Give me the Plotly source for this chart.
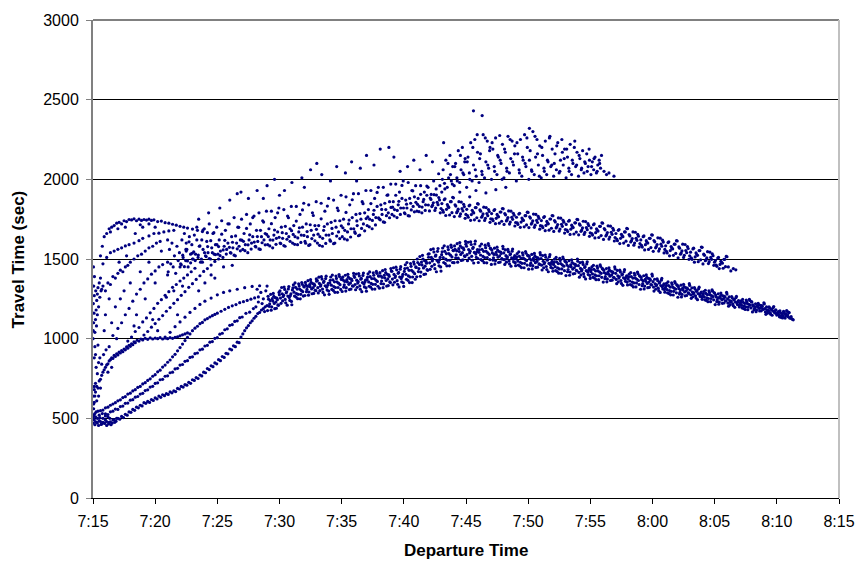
import plotly.graph_objects as go

# Departure time is stored as minutes after 7:00, travel time in seconds.
TICK_MINUTES = [15, 20, 25, 30, 35, 40, 45, 50, 55, 60, 65, 70, 75]
TICK_LABELS = ['7:15', '7:20', '7:25', '7:30', '7:35', '7:40', '7:45',
               '7:50', '7:55', '8:00', '8:05', '8:10', '8:15']
Y_TICKS = [0, 500, 1000, 1500, 2000, 2500, 3000]

# Vehicles leaving in the first minutes
start_cluster = [
    (15.0,470),(15.05,520),(15.1,490),(15.15,460),(15.2,510),(15.25,540),(15.3,475),(15.35,500),
    (15.45,455),(15.5,520),(15.6,480),(15.7,465),(15.8,500),(15.9,470),(16.0,490),(16.1,455),
    (16.2,510),(16.3,475),(16.45,460),(16.6,490),(16.75,475),(16.9,500),(15.15,530),(15.4,545),
    (15.55,505),(15.75,530),(16.0,515),(16.35,500),(15.05,590),(15.0,640),(15.1,680)]

axis_column = [
    (15.0,1000),(15.02,1050),(15.05,1100),(15.08,1160),(15.03,1220),(15.1,1270),(15.06,1330),
    (15.12,1390),(15.04,1450),(15.15,1040),(15.2,1120),(15.25,1180),(15.3,1240),(15.22,1300),
    (15.35,1280),(15.4,1320),(15.45,1200),(15.5,1350),(15.55,1260),(15.6,1380),(15.65,1300),
    (15.7,1310),(15.35,1150),(15.15,950),(15.1,880),(15.28,1080)]

strand_lowest = [
    (15.05,495),(15.2,478),(15.35,470),(15.5,485),(15.65,462),(15.8,475),(15.95,468),(16.1,480),
    (16.25,465),(16.4,478),(16.55,470),(16.7,490),(16.85,482),(17.0,500),(17.15,495),(17.3,512),
    (17.45,505),(17.6,525),(17.75,520),(17.9,540),(18.05,538),(18.2,556),(18.35,550),(18.5,570),
    (18.65,566),(18.8,582),(18.95,578),(19.1,598),(19.25,594),(19.4,606),(19.55,600),(19.7,618),
    (19.85,612),(20.0,628),(20.15,622),(20.3,640),(20.45,632),(20.6,648),(20.75,642),(20.9,655),
    (21.05,650),(21.2,666),(21.35,660),(21.5,672),(21.65,668),(21.8,688),(21.95,684),(22.1,700),
    (22.25,696),(22.4,712),(22.55,708),(22.7,726),(22.85,720),(23.0,742),(23.15,738),(23.3,756),
    (23.45,750),(23.6,772),(23.75,766),(23.9,790),(24.05,786),(24.2,812),(24.35,806),(24.5,830),
    (24.65,824),(24.8,848),(24.95,842),(25.1,868),(25.25,862),(25.4,888),(25.55,882),(25.7,908),
    (25.85,905),(26.0,935),(26.15,930),(26.3,955),(26.45,950),(26.6,978),(26.75,975),(26.9,1010),
    (27.05,1030),(27.2,1050),(27.35,1068),(27.5,1082),(27.65,1100),(27.8,1112),(27.95,1128),
    (28.1,1140),(28.25,1158),(28.4,1165),(28.55,1180),(28.7,1188),(28.85,1200),(29.0,1208)]

strand_middle = [
    (16.0,528),(16.2,524),(16.4,541),(16.6,545),(16.8,558),(17.0,556),(17.2,574),(17.4,577),
    (17.6,594),(17.8,596),(18.0,614),(18.2,617),(18.4,633),(18.6,637),(18.8,652),(19.0,657),
    (19.2,674),(19.4,679),(19.6,696),(19.8,701),(20.0,719),(20.2,723),(20.4,742),(20.6,745),
    (20.8,764),(21.0,767),(21.2,786),(21.4,790),(21.6,810),(21.8,814),(22.0,834),(22.2,838),
    (22.4,858),(22.6,862),(22.8,882),(23.0,886),(23.2,906),(23.4,910),(23.6,930),(23.8,934),
    (24.0,954),(24.2,958),(24.4,978),(24.6,982),(24.8,1002),(25.0,1006),(25.2,1028),(25.4,1034),
    (25.6,1056),(25.8,1062),(26.0,1084),(26.2,1088),(26.4,1108),(26.6,1112),(26.8,1132),
    (27.0,1136),(27.3,1159),(27.6,1166),(27.9,1189)]

strand_upper = [
    (15.6,548),(15.8,552),(16.0,566),(16.2,570),(16.4,582),(16.6,590),(16.8,598),(17.0,610),
    (17.2,616),(17.4,630),(17.6,636),(17.8,652),(18.0,658),(18.2,672),(18.4,680),(18.6,694),
    (18.8,700),(19.0,716),(19.2,724),(19.4,738),(19.6,748),(19.8,764),(20.0,774),(20.2,792),
    (20.4,802),(20.6,822),(20.8,834),(21.0,852),(21.2,866),(21.4,886),(21.6,902),(21.8,924),
    (22.0,944),(22.2,966),(22.4,988),(22.6,1008),(22.8,1030),(23.0,1050),(23.2,1066),(23.4,1078),
    (23.6,1094),(23.8,1102),(24.0,1118),(24.2,1126),(24.4,1136),(24.6,1144),(24.8,1152),
    (25.0,1160),(25.3,1172),(25.6,1184),(25.9,1196),(26.2,1206),(26.5,1214),(26.8,1226),
    (27.1,1232),(27.4,1240),(27.7,1248),(28.0,1256),(28.3,1262),
    (28.1,1200),(28.3,1230),(28.5,1290),(28.7,1250),(28.9,1300),(28.2,1310),(28.6,1220),(28.8,1170)]

line_1000 = [
    (15.0,510),(15.05,560),(15.1,600),(15.15,640),(15.2,665),(15.3,700),(15.4,690),(15.5,735),
    (15.6,745),(15.7,770),(15.8,790),(15.9,805),(16.0,820),(16.1,835),(16.2,842),(16.3,860),
    (16.4,868),(16.5,880),(16.6,876),(16.7,895),(16.8,888),(16.9,905),(17.0,898),(17.1,915),
    (17.2,910),(17.3,925),(17.4,918),(17.5,935),(17.6,930),(17.7,948),(17.8,940),(17.9,958),
    (18.0,952),(18.1,968),(18.2,962),(18.3,980),(18.4,975),(18.55,990),(18.7,985),(18.85,998),
    (19.0,992),(19.2,1002),(19.4,996),(19.6,1005),(19.8,998),(20.0,1004),(20.2,1000),(20.4,1006),
    (20.6,998),(20.8,1004),(21.0,1000),(21.2,1006),(21.4,1002),(21.6,1008),(21.8,1012),
    (22.0,1018),(22.2,1024),(22.4,1030),(22.6,1036),
    (15.2,720),(15.35,780),(15.45,850),(15.25,820),(15.55,880),(15.7,840),(15.85,900),(16.05,930),
    (16.3,950),(15.1,700),(15.3,610),(15.45,640),(15.6,690),(15.2,900),(15.4,960),(16.2,790),
    (16.5,820)]

steep_fan = [
    (15.8,1330),(16.0,1300),(16.2,1350),(16.4,1340),(16.6,1390),(16.8,1380),(17.0,1410),
    (17.2,1430),(17.4,1420),(17.6,1450),(17.8,1460),(18.0,1480),(18.3,1500),(18.6,1520),
    (18.9,1530),(19.2,1550),(19.5,1570),(19.8,1580),(20.1,1600),(20.4,1610)]

top_arc = [
    (15.6,1520),(15.75,1580),(15.9,1640),(16.1,1660),(16.3,1690),(16.5,1700),(16.7,1710),
    (16.9,1725),(17.1,1730),(17.3,1720),(17.5,1740),(17.7,1735),(17.9,1748),(18.1,1745),
    (18.3,1752),(18.5,1740),(18.7,1750),(18.9,1742),(19.1,1748),(19.3,1744),(19.5,1750),
    (19.7,1742),(19.9,1746),(20.2,1735),(20.5,1738),(20.8,1728),(21.1,1725),(21.4,1718),
    (21.7,1712),(22.0,1705),(22.3,1700),(22.6,1694),(23.0,1688),(23.4,1680),(23.8,1672),
    (24.2,1665),(16.4,1670),(17.0,1690),(17.6,1700),(18.8,1715),(19.5,1720)]

second_arc = [
    (15.8,1470),(16.1,1510),(16.4,1540),(16.7,1550),(17.0,1561),(17.3,1570),(17.6,1582),
    (17.9,1590),(18.3,1600),(18.7,1615),(19.0,1630),(19.5,1645),(19.9,1660),(20.3,1662),
    (20.7,1670),(21.1,1676),(21.5,1680)]

fan_b = [
    (16.6,1020),(17.0,1064),(17.3,1100),(17.6,1150),(17.9,1190),(18.2,1235),(18.5,1280),
    (18.8,1310),(19.1,1350),(19.4,1375),(19.7,1405),(20.0,1425),(20.3,1450),(20.6,1465),(21.0,1480)]

fan_c = [
    (17.8,985),(18.1,1010),(18.4,1045),(18.7,1070),(19.0,1105),(19.3,1130),(19.6,1162),
    (19.9,1190),(20.2,1222),(20.5,1245),(20.8,1272),(21.1,1295),(21.4,1322),(21.7,1340),
    (22.0,1362),(22.3,1380),(22.6,1400),(22.9,1420),(23.2,1442)]

fan_d = [
    (19.1,1023),(19.4,1045),(19.7,1072),(20.0,1095),(20.3,1122),(20.6,1145),(20.9,1172),
    (21.2,1195),(21.5,1222),(21.8,1245),(22.1,1272),(22.4,1295),(22.7,1322),(23.0,1345),
    (23.3,1372),(23.6,1395),(23.9,1422),(24.2,1440),(24.5,1462),(24.8,1485),(25.1,1500)]

fan_e = [
    (20.8,1010),(21.2,1040),(21.6,1075),(22.0,1105),(22.4,1135),(22.8,1165),(23.2,1190),
    (23.6,1215),(24.0,1235),(24.5,1255),(25.0,1275),(25.5,1290),(26.0,1300),(26.6,1310),
    (27.2,1320),(27.8,1328),(28.4,1332),(29.0,1330)]

early_scatter = [
    (16.5,1100),(17.2,1250),(18.0,1350),(18.5,1150),(19.2,1250),(20.0,1350),(20.5,1550),
    (21.0,1400),(21.5,1300),(22.0,1450),(22.5,1550),(23.0,1500),(19.5,1480),(18.8,1420),
    (17.5,1300),(16.8,1200),(20.2,1050),(21.8,1150),(23.5,1300),(24.0,1350),(24.5,1400),
    (25.5,1450),(26.2,1460),(16.0,1150),(16.3,1250),(17.7,1520),(19.0,1700),(20.0,1700),
    (21.0,1620),(22.5,1600),(15.9,1050),(16.9,1000),(18.3,1080),(19.8,1120),(20.9,1260),
    (22.2,1330),(23.8,1480),(24.8,1380),(17.1,1480),(18.4,1660)]

# Main lower band, 7:29 to 8:11
lower_band = [
    (29.04,1176),(29.12,1248),(29.21,1218),(29.29,1278),(29.37,1200),(29.46,1236),(29.54,1266),(29.62,1188),(29.71,1230),(29.79,1254),(29.87,1212),(29.96,1290),
    (30.04,1300),(30.12,1222),(30.21,1282),(30.29,1264),(30.37,1324),(30.46,1246),(30.54,1288),(30.62,1210),(30.71,1312),(30.79,1258),(30.87,1270),(30.96,1234),
    (31.04,1306),(31.12,1338),(31.21,1267),(31.29,1322),(31.37,1283),(31.46,1251),(31.54,1344),(31.62,1311),(31.71,1278),(31.79,1352),(31.87,1295),(31.96,1328),
    (32.04,1271),(32.12,1337),(32.21,1309),(32.29,1364),(32.37,1293),(32.46,1326),(32.54,1353),(32.62,1282),(32.71,1320),(32.79,1342),(32.87,1304),(32.96,1375),
    (33.04,1365),(33.12,1287),(33.21,1347),(33.29,1329),(33.37,1389),(33.46,1311),(33.54,1353),(33.62,1275),(33.71,1377),(33.79,1323),(33.87,1335),(33.96,1299),
    (34.04,1351),(34.12,1387),(34.21,1309),(34.29,1369),(34.37,1327),(34.46,1291),(34.54,1393),(34.62,1357),(34.71,1321),(34.79,1402),(34.87,1339),(34.96,1375),
    (35.04,1296),(35.12,1368),(35.21,1338),(35.29,1398),(35.37,1320),(35.46,1356),(35.54,1386),(35.62,1308),(35.71,1350),(35.79,1374),(35.87,1332),(35.96,1410),
    (36.04,1385),(36.12,1307),(36.21,1367),(36.29,1349),(36.37,1409),(36.46,1331),(36.54,1373),(36.62,1295),(36.71,1397),(36.79,1343),(36.87,1355),(36.96,1319),
    (37.04,1371),(37.12,1407),(37.21,1329),(37.29,1389),(37.37,1347),(37.46,1311),(37.54,1413),(37.62,1377),(37.71,1341),(37.79,1422),(37.87,1359),(37.96,1395),
    (38.04,1317),(38.12,1395),(38.21,1362),(38.29,1427),(38.37,1343),(38.46,1382),(38.54,1414),(38.62,1330),(38.71,1375),(38.79,1401),(38.87,1356),(38.96,1440),
    (39.04,1423),(39.12,1338),(39.21,1403),(39.29,1384),(39.37,1449),(39.46,1364),(39.54,1410),(39.62,1325),(39.71,1436),(39.79,1377),(39.87,1390),(39.96,1351),
    (40.04,1422),(40.12,1464),(40.21,1373),(40.29,1443),(40.37,1394),(40.46,1352),(40.54,1471),(40.62,1429),(40.71,1387),(40.79,1482),(40.87,1408),(40.96,1450),
    (41.04,1388),(41.12,1478),(41.21,1440),(41.29,1515),(41.37,1418),(41.46,1463),(41.54,1500),(41.62,1403),(41.71,1455),(41.79,1485),(41.87,1433),(41.96,1530),
    (42.04,1533),(42.12,1435),(42.21,1510),(42.29,1488),(42.37,1563),(42.46,1465),(42.54,1518),(42.62,1420),(42.71,1548),(42.79,1480),(42.87,1495),(42.96,1450),
    (43.04,1527),(43.12,1569),(43.21,1478),(43.29,1548),(43.37,1499),(43.46,1457),(43.54,1576),(43.62,1534),(43.71,1492),(43.79,1587),(43.87,1513),(43.96,1555),
    (44.04,1477),(44.12,1561),(44.21,1526),(44.29,1596),(44.37,1505),(44.46,1547),(44.54,1582),(44.62,1491),(44.71,1540),(44.79,1568),(44.87,1519),(44.96,1610),
    (45.04,1580),(45.12,1489),(45.21,1559),(45.29,1538),(45.37,1608),(45.46,1517),(45.54,1566),(45.62,1475),(45.71,1594),(45.79,1531),(45.87,1545),(45.96,1503),
    (46.04,1542),(46.12,1581),(46.21,1496),(46.29,1561),(46.37,1516),(46.46,1477),(46.54,1587),(46.62,1548),(46.71,1509),(46.79,1597),(46.87,1529),(46.96,1568),
    (47.04,1466),(47.12,1538),(47.21,1508),(47.29,1568),(47.37,1490),(47.46,1526),(47.54,1556),(47.62,1478),(47.71,1520),(47.79,1544),(47.87,1502),(47.96,1580),
    (48.04,1538),(48.12,1466),(48.21,1521),(48.29,1505),(48.37,1560),(48.46,1488),(48.54,1527),(48.62,1455),(48.71,1549),(48.79,1499),(48.87,1510),(48.96,1477),
    (49.04,1501),(49.12,1534),(49.21,1462),(49.29,1517),(49.37,1479),(49.46,1446),(49.54,1539),(49.62,1506),(49.71,1473),(49.79,1547),(49.87,1490),(49.96,1523),
    (50.04,1436),(50.12,1502),(50.21,1474),(50.29,1529),(50.37,1458),(50.46,1491),(50.54,1518),(50.62,1447),(50.71,1485),(50.79,1507),(50.87,1469),(50.96,1540),
    (51.04,1503),(51.12,1431),(51.21,1486),(51.29,1470),(51.37,1525),(51.46,1453),(51.54,1492),(51.62,1420),(51.71,1514),(51.79,1464),(51.87,1475),(51.96,1442),
    (52.04,1466),(52.12,1499),(52.21,1427),(52.29,1482),(52.37,1444),(52.46,1411),(52.54,1504),(52.62,1471),(52.71,1438),(52.79,1512),(52.87,1455),(52.96,1488),
    (53.04,1396),(53.12,1462),(53.21,1434),(53.29,1489),(53.37,1418),(53.46,1451),(53.54,1478),(53.62,1407),(53.71,1445),(53.79,1467),(53.87,1429),(53.96,1500),
    (54.04,1458),(54.12,1386),(54.21,1441),(54.29,1425),(54.37,1480),(54.46,1408),(54.54,1447),(54.62,1375),(54.71,1469),(54.79,1419),(54.87,1430),(54.96,1397),
    (55.04,1420),(55.12,1450),(55.21,1385),(55.29,1435),(55.37,1400),(55.46,1370),(55.54,1455),(55.62,1425),(55.71,1395),(55.79,1463),(55.87,1410),(55.96,1440),
    (56.04,1355),(56.12,1415),(56.21,1390),(56.29,1440),(56.37,1375),(56.46,1405),(56.54,1430),(56.62,1365),(56.71,1400),(56.79,1420),(56.87,1385),(56.96,1450),
    (57.04,1410),(57.12,1345),(57.21,1395),(57.29,1380),(57.37,1430),(57.46,1365),(57.54,1400),(57.62,1335),(57.71,1420),(57.79,1375),(57.87,1385),(57.96,1355),
    (58.04,1375),(58.12,1405),(58.21,1340),(58.29,1390),(58.37,1355),(58.46,1325),(58.54,1410),(58.62,1380),(58.71,1350),(58.79,1418),(58.87,1365),(58.96,1395),
    (59.04,1310),(59.12,1370),(59.21,1345),(59.29,1395),(59.37,1330),(59.46,1360),(59.54,1385),(59.62,1320),(59.71,1355),(59.79,1375),(59.87,1340),(59.96,1405),
    (60.04,1358),(60.12,1299),(60.21,1344),(60.29,1331),(60.37,1376),(60.46,1317),(60.54,1349),(60.62,1290),(60.71,1367),(60.79,1326),(60.87,1335),(60.96,1308),
    (61.04,1320),(61.12,1347),(61.21,1288),(61.29,1333),(61.37,1302),(61.46,1275),(61.54,1351),(61.62,1324),(61.71,1297),(61.79,1358),(61.87,1311),(61.96,1338),
    (62.04,1260),(62.12,1314),(62.21,1291),(62.29,1336),(62.37,1278),(62.46,1305),(62.54,1327),(62.62,1269),(62.71,1300),(62.79,1318),(62.87,1287),(62.96,1345),
    (63.04,1305),(63.12,1253),(63.21,1293),(63.29,1281),(63.37,1321),(63.46,1269),(63.54,1297),(63.62,1245),(63.71,1313),(63.79,1277),(63.87,1285),(63.96,1261),
    (64.04,1272),(64.12,1296),(64.21,1244),(64.29,1284),(64.37,1256),(64.46,1232),(64.54,1300),(64.62,1276),(64.71,1252),(64.79,1306),(64.87,1264),(64.96,1288),
    (65.04,1214),(65.12,1262),(65.21,1242),(65.29,1282),(65.37,1230),(65.46,1254),(65.54,1274),(65.62,1222),(65.71,1250),(65.79,1266),(65.87,1238),(65.96,1290),
    (66.04,1250),(66.12,1204),(66.21,1239),(66.29,1229),(66.37,1264),(66.46,1218),(66.54,1243),(66.62,1197),(66.71,1257),(66.79,1225),(66.87,1232),(66.96,1211),
    (67.04,1218),(67.12,1238),(67.21,1193),(67.29,1228),(67.37,1204),(67.46,1183),(67.54,1242),(67.62,1221),(67.71,1200),(67.79,1247),(67.87,1211),(67.96,1232),
    (68.04,1168),(68.12,1204),(68.21,1189),(68.29,1219),(68.37,1180),(68.46,1198),(68.54,1213),(68.62,1174),(68.71,1195),(68.79,1207),(68.87,1186),(68.96,1225),
    (69.04,1189),(69.12,1153),(69.21,1181),(69.29,1172),(69.37,1200),(69.46,1164),(69.54,1183),(69.62,1147),(69.71,1195),(69.79,1169),(69.87,1175),(69.96,1158),
    (70.04,1155),(70.12,1170),(70.21,1137),(70.29,1162),(70.37,1145),(70.46,1130),(70.54,1172),(70.62,1157),(70.71,1142),(70.79,1176),(70.87,1150),(70.96,1165),
    (71.05,1128),(71.15,1138),(71.25,1122),(71.32,1118)]

lower_band_2 = [
    (29.08,1266),(29.17,1203),(29.25,1239),(29.33,1179),(29.42,1251),(29.5,1284),(29.58,1221),(29.67,1257),(29.75,1191),(29.83,1245),(29.92,1209),(29.99,1275),
    (30.08,1255),(30.17,1321),(30.25,1237),(30.33,1273),(30.42,1309),(30.5,1225),(30.58,1294),(30.67,1267),(30.75,1327),(30.83,1240),(30.92,1282),(30.99,1213),
    (31.08,1319),(31.17,1292),(31.25,1350),(31.33,1261),(31.42,1311),(31.5,1278),(31.58,1330),(31.67,1250),(31.75,1303),(31.83,1341),(31.92,1267),(31.99,1325),
    (32.08,1353),(32.17,1295),(32.25,1328),(32.33,1273),(32.42,1339),(32.5,1370),(32.58,1312),(32.67,1345),(32.75,1284),(32.83,1334),(32.92,1301),(32.99,1361),
    (33.08,1320),(33.17,1386),(33.25,1302),(33.33,1338),(33.42,1374),(33.5,1290),(33.58,1359),(33.67,1332),(33.75,1392),(33.83,1305),(33.92,1347),(33.99,1278),
    (34.08,1366),(34.17,1336),(34.25,1399),(34.33,1303),(34.42,1357),(34.5,1321),(34.58,1378),(34.67,1291),(34.75,1348),(34.83,1390),(34.92,1309),(34.99,1372),
    (35.08,1386),(35.17,1323),(35.25,1359),(35.33,1299),(35.42,1371),(35.5,1404),(35.58,1341),(35.67,1377),(35.75,1311),(35.83,1365),(35.92,1329),(35.99,1395),
    (36.08,1340),(36.17,1406),(36.25,1322),(36.33,1358),(36.42,1394),(36.5,1310),(36.58,1379),(36.67,1352),(36.75,1412),(36.83,1325),(36.92,1367),(36.99,1298),
    (37.08,1386),(37.17,1356),(37.25,1419),(37.33,1323),(37.42,1377),(37.5,1341),(37.58,1398),(37.67,1311),(37.75,1368),(37.83,1410),(37.92,1329),(37.99,1392),
    (38.08,1414),(38.17,1346),(38.25,1385),(38.33,1320),(38.42,1398),(38.5,1434),(38.58,1365),(38.67,1404),(38.75,1333),(38.83,1391),(38.92,1352),(38.99,1424),
    (39.08,1374),(39.17,1445),(39.25,1354),(39.33,1393),(39.42,1432),(39.5,1341),(39.58,1416),(39.67,1387),(39.75,1452),(39.83,1357),(39.92,1403),(39.99,1328),
    (40.08,1440),(40.17,1404),(40.25,1478),(40.33,1366),(40.42,1429),(40.5,1387),(40.58,1454),(40.67,1352),(40.75,1419),(40.83,1468),(40.92,1373),(40.99,1447),
    (41.08,1500),(41.17,1421),(41.25,1466),(41.33,1391),(41.42,1481),(41.5,1523),(41.58,1444),(41.67,1489),(41.75,1406),(41.83,1474),(41.92,1429),(41.99,1511),
    (42.08,1476),(42.17,1559),(42.25,1454),(42.33,1499),(42.42,1544),(42.5,1439),(42.58,1525),(42.67,1491),(42.75,1566),(42.83,1457),(42.92,1510),(42.99,1424),
    (43.08,1545),(43.17,1509),(43.25,1583),(43.33,1471),(43.42,1534),(43.5,1492),(43.58,1559),(43.67,1457),(43.75,1524),(43.83,1573),(43.92,1478),(43.99,1552),
    (44.08,1582),(44.17,1508),(44.25,1551),(44.33,1480),(44.42,1565),(44.5,1603),(44.58,1529),(44.67,1572),(44.75,1494),(44.83,1558),(44.92,1515),(44.99,1593),
    (45.08,1527),(45.17,1605),(45.25,1506),(45.33,1549),(45.42,1591),(45.5,1492),(45.58,1573),(45.67,1541),(45.75,1612),(45.83,1510),(45.92,1559),(45.99,1478),
    (46.08,1558),(46.17,1525),(46.25,1594),(46.33,1489),(46.42,1548),(46.5,1509),(46.58,1571),(46.67,1476),(46.75,1538),(46.83,1584),(46.92,1496),(46.99,1564),
    (47.08,1556),(47.17,1493),(47.25,1529),(47.33,1469),(47.42,1541),(47.5,1574),(47.58,1511),(47.67,1547),(47.75,1481),(47.83,1535),(47.92,1499),(47.99,1565),
    (48.08,1496),(48.17,1557),(48.25,1480),(48.33,1513),(48.42,1546),(48.5,1469),(48.58,1532),(48.67,1507),(48.75,1562),(48.83,1482),(48.92,1521),(48.99,1458),
    (49.08,1514),(49.17,1487),(49.25,1545),(49.33,1456),(49.42,1506),(49.5,1473),(49.58,1525),(49.67,1445),(49.75,1498),(49.83,1536),(49.92,1462),(49.99,1520),
    (50.08,1518),(50.17,1460),(50.25,1493),(50.33,1438),(50.42,1504),(50.5,1535),(50.58,1477),(50.67,1510),(50.75,1449),(50.83,1499),(50.92,1466),(50.99,1526),
    (51.08,1461),(51.17,1522),(51.25,1445),(51.33,1478),(51.42,1511),(51.5,1434),(51.58,1497),(51.67,1472),(51.75,1527),(51.83,1447),(51.92,1486),(51.99,1423),
    (52.08,1479),(52.17,1452),(52.25,1510),(52.33,1421),(52.42,1471),(52.5,1438),(52.58,1490),(52.67,1410),(52.75,1463),(52.83,1501),(52.92,1427),(52.99,1485),
    (53.08,1478),(53.17,1420),(53.25,1453),(53.33,1398),(53.42,1464),(53.5,1495),(53.58,1437),(53.67,1470),(53.75,1409),(53.83,1459),(53.92,1426),(53.99,1486),
    (54.08,1416),(54.17,1477),(54.25,1400),(54.33,1433),(54.42,1466),(54.5,1389),(54.58,1452),(54.67,1427),(54.75,1482),(54.83,1402),(54.92,1441),(54.99,1378),
    (55.08,1433),(55.17,1407),(55.25,1460),(55.33,1380),(55.42,1425),(55.5,1395),(55.58,1443),(55.67,1370),(55.75,1418),(55.83,1453),(55.92,1385),(55.99,1438),
    (56.08,1430),(56.17,1377),(56.25,1408),(56.33,1357),(56.42,1418),(56.5,1445),(56.58,1392),(56.67,1423),(56.75,1367),(56.83,1413),(56.92,1382),(56.99,1438),
    (57.08,1372),(57.17,1428),(57.25,1357),(57.33,1388),(57.42,1418),(57.5,1347),(57.58,1405),(57.67,1382),(57.75,1433),(57.83,1360),(57.92,1395),(57.99,1337),
    (58.08,1388),(58.17,1362),(58.25,1415),(58.33,1335),(58.42,1380),(58.5,1350),(58.58,1398),(58.67,1325),(58.75,1373),(58.83,1408),(58.92,1340),(58.99,1393),
    (59.08,1385),(59.17,1332),(59.25,1363),(59.33,1312),(59.42,1373),(59.5,1400),(59.58,1347),(59.67,1378),(59.75,1322),(59.83,1368),(59.92,1337),(59.99,1393),
    (60.08,1324),(60.17,1373),(60.25,1310),(60.33,1337),(60.42,1364),(60.5,1301),(60.58,1353),(60.67,1333),(60.75,1378),(60.83,1312),(60.92,1344),(60.99,1292),
    (61.08,1331),(61.17,1308),(61.25,1356),(61.33,1283),(61.42,1324),(61.5,1297),(61.58,1340),(61.67,1274),(61.75,1317),(61.83,1349),(61.92,1288),(61.99,1335),
    (62.08,1327),(62.17,1280),(62.25,1307),(62.33,1262),(62.42,1316),(62.5,1341),(62.58,1293),(62.67,1320),(62.75,1271),(62.83,1311),(62.92,1284),(62.99,1334),
    (63.08,1275),(63.17,1319),(63.25,1263),(63.33,1287),(63.42,1311),(63.5,1255),(63.58,1301),(63.67,1283),(63.75,1323),(63.83,1265),(63.92,1293),(63.99,1247),
    (64.08,1282),(64.17,1262),(64.25,1304),(64.33,1240),(64.42,1276),(64.5,1252),(64.58,1290),(64.67,1232),(64.75,1270),(64.83,1298),(64.92,1244),(64.99,1286),
    (65.08,1274),(65.17,1232),(65.25,1256),(65.33,1216),(65.42,1264),(65.5,1286),(65.58,1244),(65.67,1268),(65.75,1224),(65.83,1260),(65.92,1236),(65.99,1280),
    (66.08,1223),(66.17,1262),(66.25,1213),(66.33,1234),(66.42,1255),(66.5,1206),(66.58,1246),(66.67,1230),(66.75,1265),(66.83,1214),(66.92,1239),(66.99,1199),
    (67.08,1226),(67.17,1209),(67.25,1246),(67.33,1189),(67.42,1221),(67.5,1200),(67.58,1233),(67.67,1182),(67.75,1216),(67.83,1240),(67.92,1193),(67.99,1230),
    (68.08,1213),(68.17,1181),(68.25,1200),(68.33,1169),(68.42,1206),(68.5,1222),(68.58,1190),(68.67,1209),(68.75,1175),(68.83,1203),(68.92,1184),(68.99,1218),
    (69.08,1168),(69.17,1199),(69.25,1160),(69.33,1176),(69.42,1193),(69.5,1154),(69.58,1186),(69.67,1174),(69.75,1202),(69.83,1161),(69.92,1181),(69.99,1148),
    (70.08,1161),(70.17,1148),(70.25,1175),(70.33,1134),(70.42,1157),(70.5,1142),(70.58,1166),(70.67,1129),(70.75,1153),(70.83,1171),(70.92,1137),(70.99,1163),
    (71.1,1132),(71.2,1125)]

# Middle band, 7:42 to 8:06
middle_band = [
    (42.06,1802),(42.18,1874),(42.31,1838),(42.43,1904),(42.56,1820),(42.68,1856),(42.81,1886),(42.93,1790),
    (43.06,1848),(43.18,1794),(43.31,1878),(43.43,1812),(43.56,1830),(43.68,1776),(43.81,1860),(43.93,1887),
    (44.06,1766),(44.18,1832),(44.31,1799),(44.43,1860),(44.56,1783),(44.68,1816),(44.81,1843),(44.93,1755),
    (45.06,1812),(45.18,1762),(45.31,1839),(45.43,1779),(45.56,1795),(45.68,1746),(45.81,1823),(45.93,1847),
    (46.06,1740),(46.18,1800),(46.31,1770),(46.43,1825),(46.56,1755),(46.68,1785),(46.81,1810),(46.93,1730),
    (47.06,1785),(47.18,1740),(47.31,1810),(47.43,1755),(47.56,1770),(47.68,1725),(47.81,1795),(47.93,1817),
    (48.06,1717),(48.18,1777),(48.31,1747),(48.43,1802),(48.56,1732),(48.68,1762),(48.81,1787),(48.93,1707),
    (49.06,1762),(49.18,1717),(49.31,1787),(49.43,1732),(49.56,1747),(49.68,1702),(49.81,1772),(49.93,1794),
    (50.06,1697),(50.18,1757),(50.31,1727),(50.43,1782),(50.56,1712),(50.68,1742),(50.81,1767),(50.93,1687),
    (51.06,1741),(51.18,1696),(51.31,1766),(51.43,1711),(51.56,1726),(51.68,1681),(51.81,1751),(51.93,1773),
    (52.06,1673),(52.18,1733),(52.31,1703),(52.43,1758),(52.56,1688),(52.68,1718),(52.81,1743),(52.93,1663),
    (53.06,1717),(53.18,1672),(53.31,1742),(53.43,1687),(53.56,1702),(53.68,1657),(53.81,1727),(53.93,1749),
    (54.06,1652),(54.18,1712),(54.31,1682),(54.43,1737),(54.56,1667),(54.68,1697),(54.81,1722),(54.93,1642),
    (55.06,1695),(55.18,1650),(55.31,1720),(55.43,1665),(55.56,1680),(55.68,1635),(55.81,1705),(55.93,1727),
    (56.06,1623),(56.18,1683),(56.31,1653),(56.43,1708),(56.56,1638),(56.68,1668),(56.81,1693),(56.93,1613),
    (57.06,1660),(57.18,1615),(57.31,1685),(57.43,1630),(57.56,1645),(57.68,1600),(57.81,1670),(57.93,1692),
    (58.06,1585),(58.18,1645),(58.31,1615),(58.43,1670),(58.56,1600),(58.68,1630),(58.81,1655),(58.93,1575),
    (59.06,1620),(59.18,1575),(59.31,1645),(59.43,1590),(59.56,1605),(59.68,1560),(59.81,1630),(59.93,1652),
    (60.06,1548),(60.18,1608),(60.31,1578),(60.43,1633),(60.56,1563),(60.68,1593),(60.81,1618),(60.93,1538),
    (61.06,1583),(61.18,1538),(61.31,1608),(61.43,1553),(61.56,1568),(61.68,1523),(61.81,1593),(61.93,1615),
    (62.06,1508),(62.18,1568),(62.31,1538),(62.43,1593),(62.56,1523),(62.68,1553),(62.81,1578),(62.93,1498),
    (63.06,1543),(63.18,1498),(63.31,1568),(63.43,1513),(63.56,1528),(63.68,1483),(63.81,1553),(63.93,1575),
    (64.06,1469),(64.18,1523),(64.31,1496),(64.43,1546),(64.56,1483),(64.68,1510),(64.81,1532),(64.93,1460),
    (65.06,1490),(65.18,1454),(65.31,1510),(65.43,1466),(65.56,1478),(65.68,1442),(65.81,1498),(65.93,1516),
    (66.1,1450),(66.3,1425),(66.5,1440),(66.7,1432)]

middle_band_2 = [
    (42.12,1883),(42.25,1829),(42.37,1853),(42.5,1805),(42.62,1901),(42.75,1841),(42.87,1871),(42.99,1817),
    (43.12,1806),(43.25,1872),(43.37,1773),(43.5,1842),(43.62,1824),(43.75,1860),(43.87,1791),(43.99,1884),
    (44.12,1840),(44.25,1791),(44.37,1813),(44.5,1769),(44.62,1857),(44.75,1802),(44.87,1829),(44.99,1780),
    (45.12,1773),(45.25,1834),(45.37,1743),(45.5,1806),(45.62,1789),(45.75,1823),(45.87,1759),(45.99,1845),
    (46.12,1808),(46.25,1762),(46.37,1783),(46.5,1742),(46.62,1823),(46.75,1772),(46.87,1798),(46.99,1752),
    (47.12,1750),(47.25,1805),(47.37,1722),(47.5,1780),(47.62,1765),(47.75,1795),(47.87,1737),(47.99,1815),
    (48.12,1785),(48.25,1739),(48.37,1760),(48.5,1719),(48.62,1800),(48.75,1749),(48.87,1775),(48.99,1729),
    (49.12,1727),(49.25,1782),(49.37,1699),(49.5,1757),(49.62,1742),(49.75,1772),(49.87,1714),(49.99,1792),
    (50.12,1765),(50.25,1719),(50.37,1740),(50.5,1699),(50.62,1780),(50.75,1729),(50.87,1755),(50.99,1709),
    (51.12,1706),(51.25,1761),(51.37,1678),(51.5,1736),(51.62,1721),(51.75,1751),(51.87,1693),(51.99,1771),
    (52.12,1741),(52.25,1695),(52.37,1716),(52.5,1675),(52.62,1756),(52.75,1705),(52.87,1731),(52.99,1685),
    (53.12,1682),(53.25,1737),(53.37,1654),(53.5,1712),(53.62,1697),(53.75,1727),(53.87,1669),(53.99,1747),
    (54.12,1720),(54.25,1674),(54.37,1695),(54.5,1654),(54.62,1735),(54.75,1684),(54.87,1710),(54.99,1664),
    (55.12,1660),(55.25,1715),(55.37,1632),(55.5,1690),(55.62,1675),(55.75,1705),(55.87,1647),(55.99,1725),
    (56.12,1691),(56.25,1645),(56.37,1666),(56.5,1625),(56.62,1706),(56.75,1655),(56.87,1681),(56.99,1635),
    (57.12,1625),(57.25,1680),(57.37,1597),(57.5,1655),(57.62,1640),(57.75,1670),(57.87,1612),(57.99,1690),
    (58.12,1653),(58.25,1607),(58.37,1628),(58.5,1587),(58.62,1668),(58.75,1617),(58.87,1643),(58.99,1597),
    (59.12,1585),(59.25,1640),(59.37,1557),(59.5,1615),(59.62,1600),(59.75,1630),(59.87,1572),(59.99,1650),
    (60.12,1616),(60.25,1570),(60.37,1591),(60.5,1550),(60.62,1631),(60.75,1580),(60.87,1606),(60.99,1560),
    (61.12,1548),(61.25,1603),(61.37,1520),(61.5,1578),(61.62,1563),(61.75,1593),(61.87,1535),(61.99,1613),
    (62.12,1576),(62.25,1530),(62.37,1551),(62.5,1510),(62.62,1591),(62.75,1540),(62.87,1566),(62.99,1520),
    (63.12,1508),(63.25,1563),(63.37,1480),(63.5,1538),(63.62,1523),(63.75,1553),(63.87,1495),(63.99,1573),
    (64.12,1530),(64.25,1489),(64.37,1507),(64.5,1471),(64.62,1543),(64.75,1498),(64.87,1521),(64.99,1480),
    (65.12,1462),(65.25,1506),(65.37,1440),(65.5,1486),(65.62,1474),(65.75,1498),(65.87,1452),(65.99,1514)]

# Upper cloud, 7:42 to 7:56
top_cloud = [
    (42.2,1905),(42.4,1990),(42.6,1940),(42.8,2035),(42.9,1960),
    (43.05,1920),(43.16,2060),(43.27,1975),(43.38,2120),(43.49,1950),(43.6,2010),(43.71,2150),(43.82,1990),(43.93,2080),
    (44.05,1960),(44.16,2100),(44.27,2010),(44.38,2180),(44.49,1980),(44.6,2060),(44.71,2200),(44.82,2030),(44.93,2130),
    (45.05,1950),(45.16,2140),(45.27,2040),(45.38,2230),(45.49,1990),(45.6,2090),(45.71,2250),(45.82,2020),(45.93,2170),
    (46.05,1980),(46.16,2160),(46.27,2050),(46.38,2280),(46.49,2010),(46.6,2110),(46.71,2240),(46.82,2070),(46.93,2200),
    (47.05,2000),(47.16,2190),(47.27,2080),(47.38,2260),(47.49,2030),(47.6,2140),(47.71,2275),(47.82,2100),(47.93,2220),
    (48.05,2010),(48.16,2170),(48.27,2070),(48.38,2270),(48.49,2040),(48.6,2130),(48.71,2240),(48.82,2090),(48.93,2210),
    (49.05,1990),(49.16,2160),(49.27,2060),(49.38,2250),(49.49,2020),(49.6,2120),(49.71,2280),(49.82,2080),(49.93,2200),
    (50.05,2000),(50.16,2180),(50.27,2060),(50.38,2300),(50.49,2030),(50.6,2140),(50.71,2250),(50.82,2090),(50.93,2210),
    (51.05,2010),(51.16,2150),(51.27,2070),(51.38,2240),(51.49,2030),(51.6,2110),(51.71,2260),(51.82,2080),(51.93,2190),
    (52.05,2020),(52.16,2160),(52.27,2060),(52.38,2230),(52.49,2040),(52.6,2120),(52.71,2250),(52.82,2090),(52.93,2190),
    (53.05,2010),(53.16,2140),(53.27,2070),(53.38,2220),(53.49,2030),(53.6,2100),(53.71,2200),(53.82,2080),(53.93,2170),
    (54.05,2020),(54.16,2130),(54.27,2060),(54.38,2180),(54.49,2040),(54.6,2100),(54.71,2160),(54.82,2080),(54.93,2120),
    (55.05,2030),(55.16,2110),(55.27,2060),(55.38,2140),(55.49,2040),(55.6,2090),(55.71,2120),(55.82,2070),
    (56.1,2050),(56.3,2030),(56.5,2040),(56.9,2020),
    (45.6,2430),(46.3,2400),(50.1,2320),
    (44.5,1920),(45.3,1890),(45.8,1930),(46.6,1915),(47.4,1935),(48.2,1950)]

top_cloud_2 = [
    (43.1,2000),(43.3,1940),(43.55,2100),(43.75,2030),(43.9,1970),
    (44.1,2080),(44.3,1990),(44.55,2150),(44.75,2040),(44.9,2110),
    (45.1,2110),(45.3,2000),(45.55,2200),(45.75,2060),(45.9,2280),
    (46.1,2130),(46.3,2030),(46.55,2260),(46.75,2090),(46.9,2180),
    (47.1,2230),(47.3,2050),(47.55,2150),(47.75,2120),(47.9,2000),
    (48.1,2190),(48.3,2050),(48.55,2250),(48.75,2110),(48.9,2160),
    (49.1,2230),(49.3,2040),(49.55,2140),(49.75,2100),(49.9,2260),
    (50.1,2120),(50.3,2050),(50.55,2270),(50.75,2160),(50.9,2020),
    (51.1,2200),(51.3,2050),(51.55,2120),(51.75,2270),(51.9,2090),
    (52.1,2100),(52.3,2210),(52.55,2050),(52.75,2170),(52.9,2130),
    (53.1,2190),(53.3,2050),(53.55,2120),(53.75,2240),(53.9,2090),
    (54.1,2150),(54.3,2070),(54.55,2110),(54.75,2050),(54.9,2190),
    (55.1,2080),(55.3,2130),(55.55,2050),(55.75,2100),(55.9,2150)]

# Broad cloud, 7:21 to 7:42
mid_cloud = [
    (21.05,1420),(21.15,1560),(21.25,1470),(21.35,1600),(21.45,1450),(21.55,1520),(21.65,1410),(21.75,1580),(21.85,1490),(21.95,1540),
    (22.05,1470),(22.15,1620),(22.25,1510),(22.35,1660),(22.45,1490),(22.55,1560),(22.65,1450),(22.75,1640),(22.85,1530),(22.95,1590),
    (23.05,1500),(23.15,1650),(23.25,1530),(23.35,1700),(23.45,1510),(23.55,1580),(23.65,1480),(23.75,1620),(23.85,1560),(23.95,1690),
    (24.05,1520),(24.15,1610),(24.25,1540),(24.35,1720),(24.45,1500),(24.55,1570),(24.65,1660),(24.75,1530),(24.85,1590),(24.95,1700),
    (25.05,1530),(25.15,1620),(25.25,1550),(25.35,1740),(25.45,1510),(25.55,1580),(25.65,1680),(25.75,1560),(25.85,1600),(25.95,1720),
    (26.05,1540),(26.15,1640),(26.25,1570),(26.35,1760),(26.45,1520),(26.55,1600),(26.65,1700),(26.75,1580),(26.85,1620),(26.95,1750),
    (27.05,1560),(27.15,1660),(27.25,1590),(27.35,1780),(27.45,1540),(27.55,1620),(27.65,1720),(27.75,1600),(27.85,1640),(27.95,1770),
    (28.05,1580),(28.15,1680),(28.25,1610),(28.35,1790),(28.45,1560),(28.55,1640),(28.65,1740),(28.75,1620),(28.85,1660),(28.95,1800),
    (29.05,1590),(29.15,1690),(29.25,1620),(29.35,1800),(29.45,1570),(29.55,1650),(29.65,1760),(29.75,1630),(29.85,1670),(29.95,1820),
    (30.05,1600),(30.15,1700),(30.25,1630),(30.35,1810),(30.45,1580),(30.55,1660),(30.65,1770),(30.75,1640),(30.85,1690),(30.95,1830),
    (31.05,1600),(31.15,1710),(31.25,1640),(31.35,1830),(31.45,1590),(31.55,1670),(31.65,1780),(31.75,1650),(31.85,1700),(31.95,1850),
    (32.05,1610),(32.15,1720),(32.25,1640),(32.35,1840),(32.45,1590),(32.55,1680),(32.65,1790),(32.75,1650),(32.85,1710),(32.95,1860),
    (33.05,1600),(33.15,1710),(33.25,1640),(33.35,1850),(33.45,1580),(33.55,1680),(33.65,1800),(33.75,1650),(33.85,1720),(33.95,1880),
    (34.05,1620),(34.15,1730),(34.25,1660),(34.35,1870),(34.45,1600),(34.55,1700),(34.65,1820),(34.75,1670),(34.85,1740),(34.95,1900),
    (35.05,1640),(35.15,1750),(35.25,1680),(35.35,1890),(35.45,1620),(35.55,1720),(35.65,1840),(35.75,1690),(35.85,1760),(35.95,1910),
    (36.05,1670),(36.15,1780),(36.25,1710),(36.35,1910),(36.45,1650),(36.55,1750),(36.65,1860),(36.75,1720),(36.85,1790),(36.95,1930),
    (37.05,1710),(37.15,1810),(37.25,1750),(37.35,1930),(37.45,1690),(37.55,1780),(37.65,1880),(37.75,1760),(37.85,1830),(37.95,1950),
    (38.05,1750),(38.15,1840),(38.25,1780),(38.35,1950),(38.45,1730),(38.55,1810),(38.65,1900),(38.75,1790),(38.85,1860),(38.95,1970),
    (39.05,1780),(39.15,1860),(39.25,1810),(39.35,1970),(39.45,1760),(39.55,1840),(39.65,1920),(39.75,1820),(39.85,1880),(39.95,1990),
    (40.05,1790),(40.15,1870),(40.25,1820),(40.35,1980),(40.45,1770),(40.55,1850),(40.65,1930),(40.75,1830),(40.85,1890),(40.95,1960),
    (41.05,1800),(41.15,1880),(41.25,1830),(41.35,1960),(41.45,1790),(41.55,1860),(41.65,1920),(41.75,1840),(41.85,1900),(41.95,1950)]

mid_cloud_2 = [
    (22.1,1464),(22.22,1524),(22.35,1452),(22.47,1560),(22.6,1488),(22.72,1608),(22.85,1476),(22.97,1536),
    (23.1,1545),(23.22,1490),(23.35,1620),(23.47,1525),(23.6,1582),(23.72,1500),(23.85,1682),(23.97,1540),
    (24.1,1515),(24.22,1578),(24.35,1503),(24.47,1615),(24.6,1540),(24.72,1665),(24.85,1528),(24.97,1590),
    (25.1,1578),(25.22,1521),(25.35,1656),(25.47,1557),(25.6,1617),(25.72,1531),(25.85,1721),(25.97,1573),
    (26.1,1537),(26.22,1605),(26.35,1524),(26.47,1645),(26.6,1564),(26.72,1699),(26.85,1551),(26.97,1618),
    (27.1,1611),(27.22,1552),(27.35,1692),(27.47,1589),(27.6,1652),(27.72,1562),(27.85,1760),(27.97,1606),
    (28.1,1576),(28.22,1641),(28.35,1563),(28.47,1680),(28.6,1602),(28.72,1732),(28.85,1589),(28.97,1654),
    (29.1,1641),(29.22,1582),(29.35,1722),(29.47,1619),(29.6,1682),(29.72,1592),(29.85,1790),(29.97,1636),
    (30.1,1597),(30.22,1665),(30.35,1584),(30.47,1705),(30.6,1624),(30.72,1759),(30.85,1611),(30.97,1678),
    (31.1,1654),(31.22,1592),(31.35,1738),(31.47,1632),(31.6,1696),(31.72,1604),(31.85,1808),(31.97,1648),
    (32.1,1599),(32.22,1672),(32.35,1585),(32.47,1715),(32.6,1628),(32.72,1773),(32.85,1614),(32.97,1686),
    (33.1,1656),(33.22,1586),(33.35,1752),(33.47,1630),(33.6,1704),(33.72,1598),(33.85,1832),(33.97,1650),
    (34.1,1612),(34.22,1692),(34.35,1596),(34.47,1740),(34.6,1644),(34.72,1804),(34.85,1628),(34.97,1708),
    (35.1,1696),(35.22,1626),(35.35,1792),(35.47,1670),(35.6,1744),(35.72,1638),(35.85,1872),(35.97,1690),
    (36.1,1661),(36.22,1739),(36.35,1646),(36.47,1785),(36.6,1692),(36.72,1847),(36.85,1677),(36.97,1754),
    (37.1,1764),(37.22,1702),(37.35,1848),(37.47,1742),(37.6,1806),(37.72,1714),(37.85,1918),(37.97,1758),
    (38.1,1746),(38.22,1811),(38.35,1733),(38.47,1850),(38.6,1772),(38.72,1902),(38.85,1759),(38.97,1824),
    (39.1,1825),(39.22,1770),(39.35,1900),(39.47,1805),(39.6,1862),(39.72,1780),(39.85,1962),(39.97,1820),
    (40.1,1784),(40.22,1844),(40.35,1772),(40.47,1880),(40.6,1808),(40.72,1928),(40.85,1796),(40.97,1856),
    (41.1,1843),(41.22,1797),(41.35,1906),(41.47,1826),(41.6,1874),(41.72,1805),(41.85,1958),(41.97,1839)]

# Sparse slow trips above the broad cloud
upper_scatter = [
    (23.5,1750),(24.3,1790),(25.2,1820),(26.0,1870),(26.6,1910),(26.9,1920),(27.5,1880),(28.2,1930),
    (29.0,1960),(29.6,2000),(30.4,1930),(31.0,1980),(31.8,2010),(32.5,2060),(33.0,2100),(33.4,2030),
    (34.1,1990),(34.6,2080),(35.3,2040),(35.8,2110),(36.5,2070),(37.0,2150),(37.6,2090),(38.1,2190),
    (38.8,2200),(39.2,2140),(39.7,2050),(40.3,2080),(40.8,2120),(41.3,2060),(41.8,2150),(42.3,2110),
    (43.2,2230),(36.2,1990),(32.0,1950),(30.0,1900),(28.7,1880)]

groups = [start_cluster, axis_column, strand_lowest, strand_middle, strand_upper, line_1000,
          steep_fan, top_arc, second_arc, fan_b, fan_c, fan_d, fan_e, early_scatter,
          lower_band, lower_band_2, middle_band, middle_band_2, top_cloud, top_cloud_2,
          mid_cloud, mid_cloud_2, upper_scatter]

dep = [p[0] for g in groups for p in g]
travel = [p[1] for g in groups for p in g]

fig = go.Figure()
fig.add_trace(go.Scatter(
    x=dep, y=travel, mode='markers',
    marker=dict(color='#000080', size=3.2, symbol='circle', line=dict(width=0)),
    showlegend=False, hoverinfo='skip'))

tick_font = dict(family='Liberation Sans, Arial, sans-serif', size=16, color='black')
title_font = dict(family='Liberation Sans, Arial, sans-serif', size=17, color='black')

fig.update_layout(
    width=867, height=565,
    margin=dict(l=93, r=23, t=15, b=67),
    paper_bgcolor='white', plot_bgcolor='white',
    font=tick_font,
    xaxis=dict(range=[15, 75], tickmode='array', tickvals=TICK_MINUTES, ticktext=TICK_LABELS,
               showgrid=False, zeroline=False, showline=True, linecolor='black', linewidth=1,
               ticks='outside', ticklen=5, tickcolor='black', tickfont=tick_font,
               ticklabelstandoff=4),
    yaxis=dict(range=[0, 3000], tickmode='array', tickvals=Y_TICKS,
               showgrid=True, gridcolor='black', gridwidth=1, zeroline=False,
               showline=True, linecolor='#808080', linewidth=2,
               ticks='outside', ticklen=5, tickcolor='#808080', tickfont=tick_font,
               ticklabelstandoff=4),
    shapes=[
        dict(type='line', xref='paper', yref='paper', x0=0, x1=1, y0=1, y1=1,
             line=dict(color='#808080', width=2)),
        dict(type='line', xref='paper', yref='paper', x0=1, x1=1, y0=0, y1=1,
             line=dict(color='#c0c0c0', width=2)),
    ],
    annotations=[
        dict(text='<b>Departure Time</b>', xref='paper', yref='paper', x=0.5, y=-0.1097,
             xanchor='center', yanchor='middle', showarrow=False, font=title_font),
        dict(text='<b>Travel Time (sec)</b>', xref='paper', yref='paper', x=-0.1, y=0.5,
             xanchor='center', yanchor='middle', showarrow=False, textangle=-90,
             font=title_font),
    ],
)

fig.write_html('out.html')
